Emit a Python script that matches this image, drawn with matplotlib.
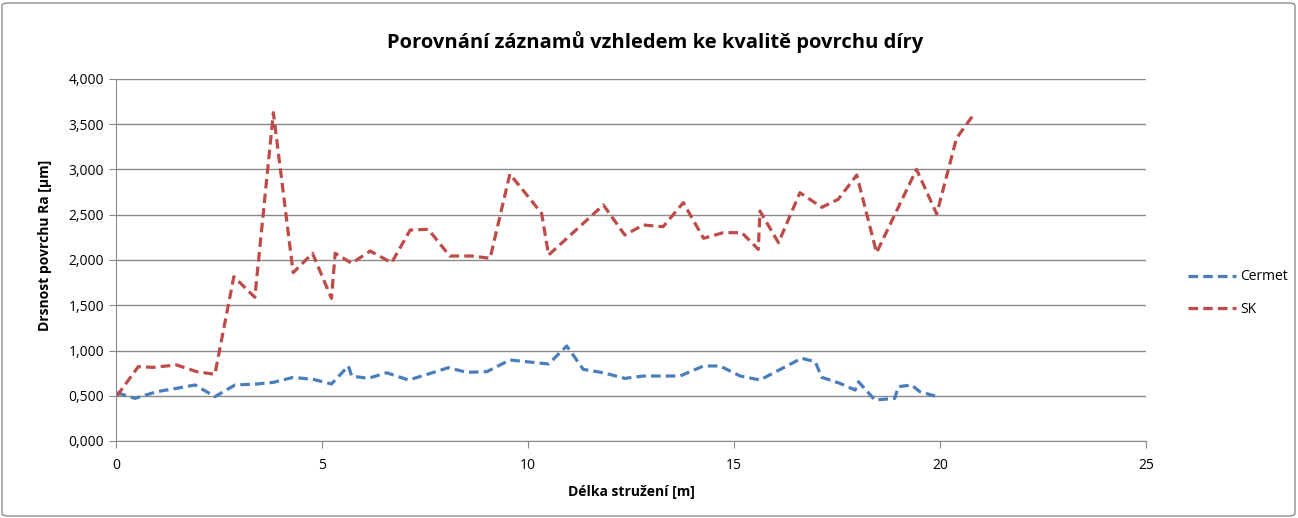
import matplotlib
matplotlib.use('Agg')
from matplotlib import pyplot as plt
from matplotlib.patches import FancyBboxPatch
from matplotlib.ticker import FuncFormatter

# data
cermet_x = [0.02, 0.46, 0.99, 1.47, 1.92, 2.4, 2.89, 3.42, 3.82, 4.3, 4.79, 5.23,
            5.64, 5.72, 6.12, 6.57, 7.1, 7.58, 8.07, 8.51, 9.0, 9.56, 10.5, 10.94,
            11.34, 11.83, 12.35, 12.8, 13.69, 14.26, 14.66, 15.15, 15.63, 16.64,
            16.97, 17.13, 17.57, 17.94, 18.02, 18.42, 18.9, 18.99, 19.31, 19.51, 19.88]
cermet_y = [534, 471, 545, 582, 619, 490, 619, 630, 648, 703, 681, 630,
            829, 718, 692, 754, 674, 740, 810, 759, 766, 895, 851, 1050,
            792, 754, 692, 718, 718, 829, 829, 718, 674, 914,
            877, 704, 637, 563, 655, 453, 471, 600, 619, 545, 497]

sk_x = [0.02, 0.54, 0.9, 1.47, 1.96, 2.4, 2.86, 3.37, 3.82, 4.3, 4.77, 5.23,
        5.32, 5.72, 6.17, 6.69, 7.14, 7.58, 8.1, 8.63, 9.08, 9.56, 10.33, 10.5,
        11.83, 12.35, 12.8, 13.28, 13.77, 14.26, 14.74, 15.19, 15.59, 15.63,
        16.08, 16.6, 17.13, 17.53, 17.98, 18.46, 19.43, 19.92, 20.4, 20.79]
sk_y = [497, 821, 814, 840, 766, 737, 1816, 1588, 3628, 1860, 2074, 1577,
        2074, 1964, 2099, 1970, 2331, 2339, 2044, 2044, 2019, 2950, 2516, 2055,
        2608, 2276, 2387, 2368, 2634, 2240, 2302, 2302, 2118, 2541,
        2191, 2744, 2582, 2671, 2939, 2081, 3002, 2508, 3345, 3591]

W, H = 1298, 518
fig = plt.figure(figsize=(W / 100, H / 100), dpi=100)
plt.rcParams['font.family'] = ['Open Sans', 'DejaVu Sans']

# outer chart border
fig.patches.append(FancyBboxPatch((2 / W, 2 / H), 1 - 5 / W, 1 - 5 / H,
                                  boxstyle='round,pad=0,rounding_size=0.005',
                                  transform=fig.transFigure, fill=False,
                                  edgecolor='#8c8c8c', linewidth=1))

ax = fig.add_axes([116 / W, 1 - 441 / H, (1146 - 116) / W, (441 - 79) / H])

ax.plot(cermet_x, cermet_y, color='#4A7EBB', lw=2.3, ls=(0, (3, 1.6)), label='Cermet')
ax.plot(sk_x, sk_y, color='#BE4B48', lw=2.3, ls=(0, (3, 1.6)), label='SK')

ax.set_xlim(0, 25)
ax.set_ylim(0, 4000)
ax.set_xticks(range(0, 26, 5))
ax.set_yticks(range(0, 4001, 500))
ax.yaxis.set_major_formatter(FuncFormatter(lambda v, p: f'{v / 1000:.3f}'.replace('.', ',')))
ax.grid(axis='y', color='#8a8a8a', lw=1)
ax.set_axisbelow(True)
for s in ['top', 'right']:
    ax.spines[s].set_visible(False)
for s in ['left', 'bottom']:
    ax.spines[s].set_color('#8a8a8a')
ax.tick_params(colors='#8a8a8a', labelcolor='black', labelsize=10, length=5)
ax.tick_params(axis='x', pad=7)

fig.text(655 / W, 1 - 42 / H, 'Porovnání záznamů vzhledem ke kvalitě povrchu díry',
         fontsize=14.5, fontweight='bold', ha='center', va='center')
ax.set_xlabel('Délka stružení [m]', fontsize=10, fontweight='bold')
ax.set_ylabel('Drsnost povrchu Ra [µm]', fontsize=10, fontweight='bold')
ax.xaxis.set_label_coords((631 - 116) / 1030, (441 - 492) / 362)
ax.yaxis.set_label_coords((45 - 116) / 1030, (441 - 245) / 362)
ax.xaxis.label.set_va('center')
ax.yaxis.label.set_va('center')

fig.legend(loc='upper left', bbox_to_anchor=(1175 / W, 1 - 257 / H), frameon=False,
           fontsize=10, handlelength=3.5, labelspacing=1.25, handletextpad=0.3)

fig.savefig('out.png', dpi=100)
